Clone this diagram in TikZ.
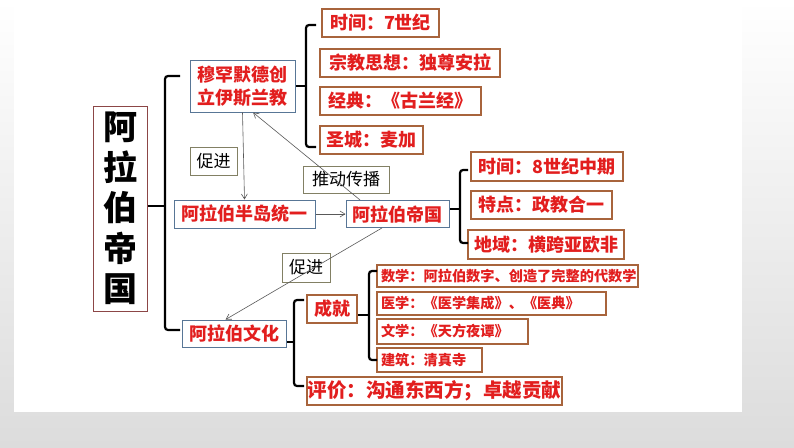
\documentclass[tikz,border=0pt]{standalone}
\usepackage{fontspec}
\setmainfont{Noto Sans CJK SC}
\usetikzlibrary{arrows.meta,calc}
\definecolor{txtred}{RGB}{226,30,30}
\definecolor{bluec}{RGB}{88,118,150}
\definecolor{brownc}{RGB}{168,100,60}
\definecolor{olivec}{RGB}{130,128,100}
\definecolor{bigc}{RGB}{140,70,70}
\definecolor{bgray}{RGB}{220,220,220}
\begin{document}
\begin{tikzpicture}[x=1pt,y=-1pt,
  box/.style={draw, line width=1pt, inner sep=0pt, align=center},
  bluebox/.style={box, draw=bluec, text=txtred, font=\bfseries\fontsize{18}{23}\selectfont},
  brownbox/.style={box, draw=brownc, line width=1.2pt, text=txtred, font=\bfseries\fontsize{18}{22}\selectfont},
  smallbox/.style={draw=brownc, line width=1.2pt, text=txtred, inner ysep=0pt, inner xsep=4pt, align=left, font=\bfseries\fontsize{14.2}{16}\selectfont},
  labbox/.style={box, draw=olivec, text=black, font=\fontsize{17}{20}\selectfont},
  brk/.style={line width=2.2pt, rounded corners=3pt},
  conn/.style={draw=black!65, line width=0.6pt, -{Straight Barb[length=5pt,width=6pt]}}]
\useasboundingbox (0,0) rectangle (794,447);
\shade[top color=white, bottom color=bgray] (0,0) rectangle (794,447);
\fill[white] (14,0) rectangle (742,412);

% nodes
\node[box, draw=bigc, minimum width=54pt, minimum height=205pt, font=\bfseries\fontsize{34}{40.5}\selectfont] (big) at (120,208.5) {阿\\拉\\伯\\帝\\国};
\node[bluebox, minimum width=105pt, minimum height=52pt] (mu) at (242.5,86) {穆罕默德创\\立伊斯兰教};
\node[labbox, minimum width=47pt, minimum height=28pt] (cj1) at (213.5,161) {促进};
\node[bluebox, minimum width=141pt, minimum height=28pt] (bandao) at (244.5,214) {阿拉伯半岛统一};
\node[labbox, minimum width=86pt, minimum height=27pt] (td) at (346,179.5) {推动传播};
\node[bluebox, minimum width=103pt, minimum height=27pt] (empire) at (397.5,214) {阿拉伯帝国};
\node[labbox, minimum width=48pt, minimum height=29pt] (cj2) at (306,267.5) {促进};
\node[bluebox, minimum width=104pt, minimum height=27pt] (culture) at (234,333.5) {阿拉伯文化};

\node[brownbox, minimum width=117pt, minimum height=28pt] (t1) at (380.5,23) {时间：7世纪};
\node[brownbox, minimum width=180pt, minimum height=28pt] (t2) at (410,63) {宗教思想：独尊安拉};
\node[brownbox, minimum width=161pt, minimum height=28pt] (t3) at (400.5,101) {经典：《古兰经》};
\node[brownbox, minimum width=103pt, minimum height=28pt] (t4) at (371.5,140) {圣城：麦加};

\node[brownbox, minimum width=152pt, minimum height=29pt] (e1) at (547,166.5) {时间：8世纪中期};
\node[brownbox, minimum width=141pt, minimum height=28pt] (e2) at (541.5,205) {特点：政教合一};
\node[brownbox, minimum width=156pt, minimum height=29pt] (e3) at (546,244.5) {地域：横跨亚欧非};

\node[brownbox, minimum width=50pt, minimum height=28pt] (cjiu) at (332,309) {成就};
\node[smallbox, text width=253pt, minimum height=22pt] (a1) at (507.5,276) {数学：阿拉伯数字、创造了完整的代数学};
\node[smallbox, text width=221pt, minimum height=23pt] (a2) at (491.5,303.5) {医学：《医学集成》、《医典》};
\node[smallbox, text width=143pt, minimum height=25pt] (a3) at (452.5,331.5) {文学：《天方夜谭》};
\node[smallbox, text width=97pt, minimum height=24pt] (a4) at (429.5,360) {建筑：清真寺};
\node[brownbox, font=\bfseries\fontsize{19.5}{22}\selectfont, minimum width=255pt, minimum height=28pt] (pj) at (434.5,391) {评价：沟通东西方；卓越贡献};

% brackets
\draw[brk] (180,76) -- (165,76) -- (165,330) -- (180,330);
\draw[brk] (165,206) -- (big.east |- 0,206);
\draw[brk] (316,25) -- (306,25) -- (306,147) -- (316,147);
\draw[brk] (306,86) -- (mu.east);
\draw[brk] (468,170) -- (460,170) -- (460,243) -- (468,243);
\draw[brk] (460,209) -- (empire.east |- 0,209);
\draw[brk] (304,300) -- (294,300) -- (294,386) -- (304,386);
\draw[brk] (294,342) -- (culture.east |- 0,342);
\draw[brk] (377,271) -- (369,271) -- (369,360) -- (377,360);
\draw[brk] (369,315) -- (cjiu.east |- 0,315);

% connectors
\draw[conn] (mu.south) -- (bandao.north);
\draw[conn] (bandao.east) -- (empire.west);
\draw[conn] ($(empire.north west)!0.14!(empire.north east)$) -- ($(mu.south west)!0.6!(mu.south east)$);
\draw[conn] ($(empire.south west)!0.35!(empire.south east)$) -- ($(culture.north west)!0.42!(culture.north east)$);
\end{tikzpicture}
\end{document}
